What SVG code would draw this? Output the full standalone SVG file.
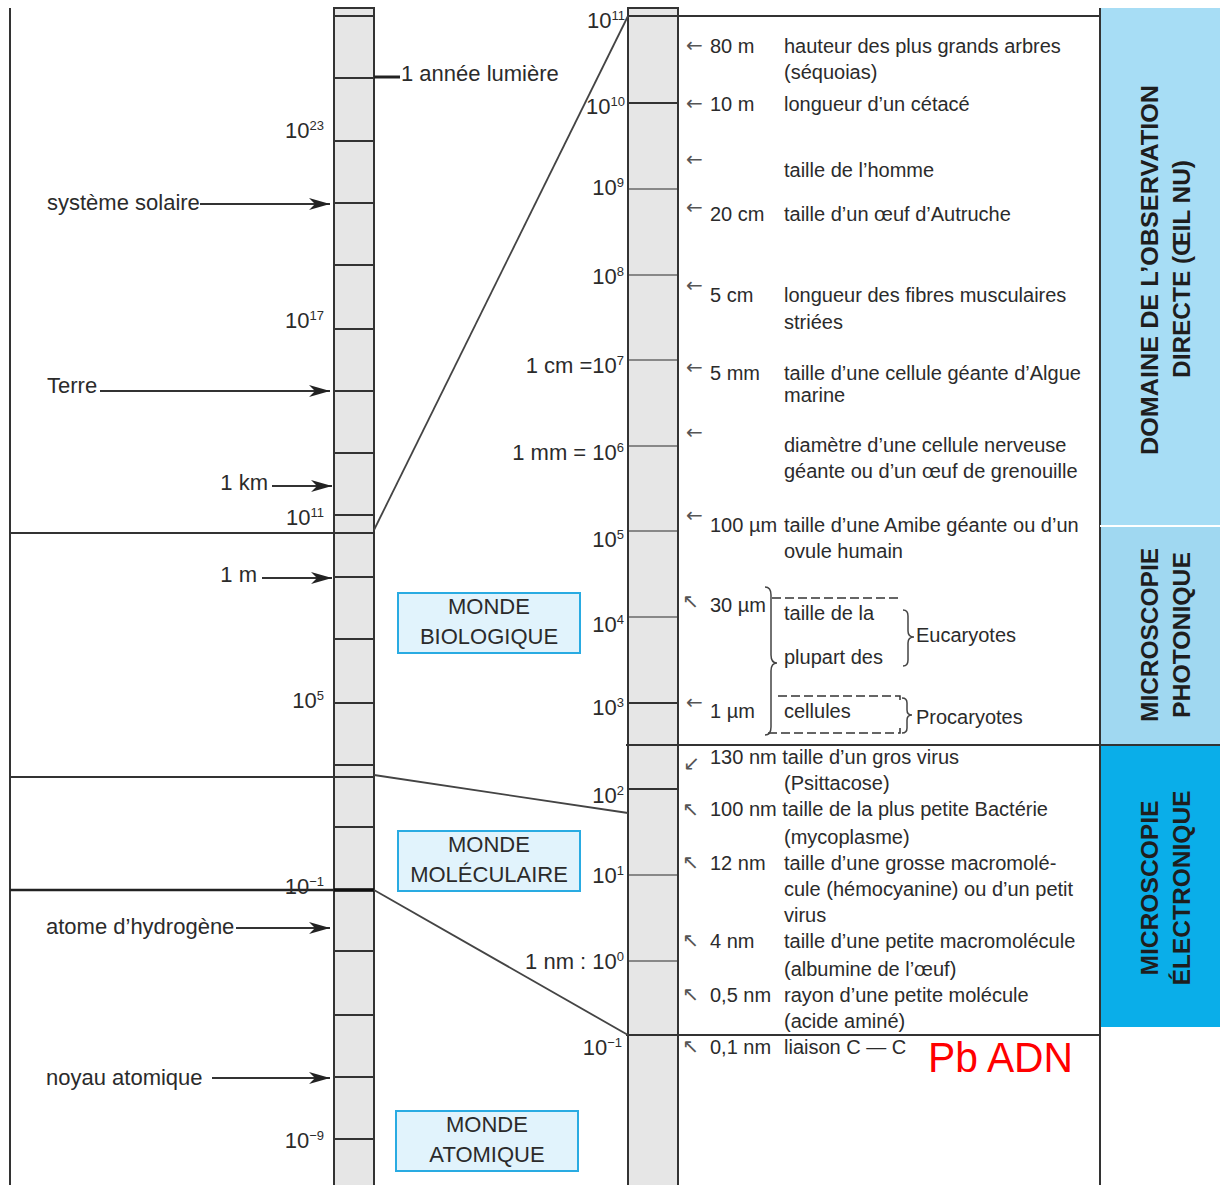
<svg xmlns="http://www.w3.org/2000/svg" width="1220" height="1185" viewBox="0 0 1220 1185">
<style>
text{font-family:"Liberation Sans",Arial,sans-serif;fill:#2b2b2b}
.t{font-size:20px}
.L{font-size:22px}
.sup{font-size:13px}
.ar{font-family:"DejaVu Sans",sans-serif;font-size:20px;fill:#555}
.ln{stroke:#333;stroke-width:2;fill:none}
.tk{stroke:#333;stroke-width:2}
.tg{stroke:#888;stroke-width:2}
.rul{fill:#e6e6e6;stroke:#333;stroke-width:2}
.box{fill:#e1f3fc;stroke:#29abe2;stroke-width:2}
.bt{font-size:22px;text-anchor:middle}
.vt{font-size:24px;font-weight:bold;text-anchor:middle;fill:#1e1e1e}
.dash{stroke:#333;stroke-width:1.5;stroke-dasharray:9,4;fill:none}
.br{stroke:#444;stroke-width:1.5;fill:none}
</style>
<defs>
<marker id="ah" markerUnits="userSpaceOnUse" markerWidth="22" markerHeight="12" refX="21" refY="6" orient="auto">
<path d="M0,0 L21,6 L0,12 L6,6 z" fill="#222"/>
</marker>
</defs>
<rect width="1220" height="1185" fill="#fff"/>

<g id="side-boxes">
<rect x="1100" y="8" width="120" height="517" fill="#a7ddf5"/>
<rect x="1100" y="527" width="120" height="218" fill="#a0d8f1"/>
<rect x="1100" y="745" width="120" height="282" fill="#0aaee9"/>
<text class="vt" transform="translate(1158,270) rotate(-90)" textLength="370" lengthAdjust="spacingAndGlyphs">DOMAINE DE L’OBSERVATION</text>
<text class="vt" transform="translate(1190,269) rotate(-90)" textLength="218" lengthAdjust="spacingAndGlyphs">DIRECTE (ŒIL NU)</text>
<text class="vt" transform="translate(1158,635) rotate(-90)" textLength="174" lengthAdjust="spacingAndGlyphs">MICROSCOPIE</text>
<text class="vt" transform="translate(1190,635) rotate(-90)" textLength="166" lengthAdjust="spacingAndGlyphs">PHOTONIQUE</text>
<text class="vt" transform="translate(1158,888) rotate(-90)" textLength="175" lengthAdjust="spacingAndGlyphs">MICROSCOPIE</text>
<text class="vt" transform="translate(1190,888) rotate(-90)" textLength="195" lengthAdjust="spacingAndGlyphs">ÉLECTRONIQUE</text>
</g>

<g id="left-ruler">
<line class="ln" x1="10" y1="8" x2="10" y2="1185"/>
<rect class="rul" x="334" y="8" width="40" height="1180"/>
<g class="tk">
<line x1="334" y1="16" x2="374" y2="16"/>
<line x1="334" y1="78" x2="374" y2="78"/>
<line x1="334" y1="141" x2="374" y2="141"/>
<line x1="334" y1="203" x2="374" y2="203"/>
<line x1="334" y1="265" x2="374" y2="265"/>
<line x1="334" y1="329" x2="374" y2="329"/>
<line x1="334" y1="391" x2="374" y2="391"/>
<line x1="334" y1="453" x2="374" y2="453"/>
<line x1="334" y1="515" x2="374" y2="515"/>
<line x1="334" y1="577" x2="374" y2="577"/>
<line x1="334" y1="639" x2="374" y2="639"/>
<line x1="334" y1="703" x2="374" y2="703"/>
<line x1="334" y1="765" x2="374" y2="765"/>
<line x1="334" y1="827" x2="374" y2="827"/>
<line x1="334" y1="951" x2="374" y2="951"/>
<line x1="334" y1="1015" x2="374" y2="1015"/>
<line x1="334" y1="1077" x2="374" y2="1077"/>
<line x1="334" y1="1139" x2="374" y2="1139"/>
</g>
<line class="ln" x1="10" y1="533" x2="374" y2="533"/>
<line class="ln" x1="10" y1="777" x2="374" y2="777"/>
<line x1="10" y1="890" x2="374" y2="890" stroke="#222" stroke-width="2.5"/>
<line x1="334" y1="890" x2="374" y2="890" stroke="#111" stroke-width="3.5"/>
<text class="L" x="324" y="138" text-anchor="end">10<tspan class="sup" dy="-8">23</tspan></text>
<text class="L" x="324" y="328" text-anchor="end">10<tspan class="sup" dy="-8">17</tspan></text>
<text class="L" x="324" y="525" text-anchor="end">10<tspan class="sup" dy="-8">11</tspan></text>
<text class="L" x="324" y="708" text-anchor="end">10<tspan class="sup" dy="-8">5</tspan></text>
<text class="L" x="324" y="894" text-anchor="end">10<tspan class="sup" dy="-8">−1</tspan></text>
<text class="L" x="324" y="1148" text-anchor="end">10<tspan class="sup" dy="-8">−9</tspan></text>
<line x1="374" y1="77" x2="400" y2="77" stroke="#222" stroke-width="3"/>
<text class="L" x="401" y="81">1 année lumière</text>
<text class="L" x="47" y="210">système solaire</text>
<text class="L" x="47" y="393">Terre</text>
<text class="L" x="268" y="490" text-anchor="end">1 km</text>
<text class="L" x="257" y="582" text-anchor="end">1 m</text>
<text class="L" x="46" y="934">atome d’hydrogène</text>
<text class="L" x="46" y="1085">noyau atomique</text>
</g>

<g id="monde-biologique">
<rect class="box" x="398" y="593" width="182" height="60"/>
<text class="bt" x="489" y="614">MONDE</text>
<text class="bt" x="489" y="644">BIOLOGIQUE</text>
</g>
<g id="monde-moleculaire">
<rect class="box" x="398" y="831" width="182" height="60"/>
<text class="bt" x="489" y="852">MONDE</text>
<text class="bt" x="489" y="882">MOLÉCULAIRE</text>
</g>
<g id="monde-atomique">
<rect class="box" x="396" y="1111" width="182" height="60"/>
<text class="bt" x="487" y="1132">MONDE</text>
<text class="bt" x="487" y="1162">ATOMIQUE</text>
</g>

<g id="mid-ruler">
<rect class="rul" x="628" y="8" width="50" height="1180"/>
<g class="tk">
<line x1="628" y1="103" x2="678" y2="103"/>
<line x1="628" y1="703" x2="678" y2="703"/>
<line x1="628" y1="789" x2="678" y2="789"/>
</g>
<g class="tg">
<line x1="629" y1="189" x2="677" y2="189"/>
<line x1="629" y1="275" x2="677" y2="275"/>
<line x1="629" y1="360" x2="677" y2="360"/>
<line x1="629" y1="446" x2="677" y2="446"/>
<line x1="629" y1="531" x2="677" y2="531"/>
<line x1="629" y1="617" x2="677" y2="617"/>
<line x1="629" y1="875" x2="677" y2="875"/>
<line x1="629" y1="961" x2="677" y2="961"/>
</g>
<text class="L" x="625" y="28" text-anchor="end">10<tspan class="sup" dy="-8">11</tspan></text>
<text class="L" x="625" y="114" text-anchor="end">10<tspan class="sup" dy="-8">10</tspan></text>
<text class="L" x="624" y="195" text-anchor="end">10<tspan class="sup" dy="-8">9</tspan></text>
<text class="L" x="624" y="284" text-anchor="end">10<tspan class="sup" dy="-8">8</tspan></text>
<text class="L" x="624" y="373" text-anchor="end">1 cm =10<tspan class="sup" dy="-8">7</tspan></text>
<text class="L" x="624" y="460" text-anchor="end">1 mm = 10<tspan class="sup" dy="-8">6</tspan></text>
<text class="L" x="624" y="547" text-anchor="end">10<tspan class="sup" dy="-8">5</tspan></text>
<text class="L" x="624" y="632" text-anchor="end">10<tspan class="sup" dy="-8">4</tspan></text>
<text class="L" x="624" y="715" text-anchor="end">10<tspan class="sup" dy="-8">3</tspan></text>
<text class="L" x="624" y="803" text-anchor="end">10<tspan class="sup" dy="-8">2</tspan></text>
<text class="L" x="624" y="883" text-anchor="end">10<tspan class="sup" dy="-8">1</tspan></text>
<text class="L" x="624" y="969" text-anchor="end">1 nm : 10<tspan class="sup" dy="-8">0</tspan></text>
<text class="L" x="622" y="1055" text-anchor="end">10<tspan class="sup" dy="-8">−1</tspan></text>
</g>

<g id="table-frame">
<line class="ln" x1="628" y1="16" x2="1100" y2="16"/>
<line class="ln" x1="626" y1="745" x2="1220" y2="745"/>
<line class="ln" x1="626" y1="1035" x2="1100" y2="1035"/>
<line class="ln" x1="1100" y1="8" x2="1100" y2="1185"/>
<line x1="1100" y1="526" x2="1220" y2="526" stroke="#fff" stroke-width="2"/>
</g>

<g id="connectors">
<line class="ln" x1="200" y1="204" x2="330" y2="204" marker-end="url(#ah)"/>
<line class="ln" x1="100" y1="391" x2="330" y2="391" marker-end="url(#ah)"/>
<line class="ln" x1="272" y1="486" x2="332" y2="486" marker-end="url(#ah)"/>
<line class="ln" x1="262" y1="578" x2="332" y2="578" marker-end="url(#ah)"/>
<line class="ln" x1="236" y1="928" x2="330" y2="928" marker-end="url(#ah)"/>
<line class="ln" x1="212" y1="1078" x2="330" y2="1078" marker-end="url(#ah)"/>
<line x1="374" y1="530" x2="628" y2="16" stroke="#444" stroke-width="1.8"/>
<line x1="374" y1="775" x2="628" y2="813" stroke="#444" stroke-width="1.8"/>
<line x1="374" y1="890" x2="628" y2="1035" stroke="#444" stroke-width="1.8"/>
</g>

<g id="table-items">
<text class="ar" x="686" y="52">←</text>
<text class="t" x="710" y="53">80 m</text>
<text class="t" x="784" y="53">hauteur des plus grands arbres</text>
<text class="t" x="784" y="79">(séquoias)</text>
<text class="ar" x="686" y="110">←</text>
<text class="t" x="710" y="111">10 m</text>
<text class="t" x="784" y="111">longueur d’un cétacé</text>
<text class="ar" x="686" y="166">←</text>
<text class="t" x="784" y="177">taille de l’homme</text>
<text class="ar" x="686" y="214">←</text>
<text class="t" x="710" y="221">20 cm</text>
<text class="t" x="784" y="221">taille d’un œuf d’Autruche</text>
<text class="ar" x="686" y="292">←</text>
<text class="t" x="710" y="302">5 cm</text>
<text class="t" x="784" y="302">longueur des fibres musculaires</text>
<text class="t" x="784" y="329">striées</text>
<text class="ar" x="686" y="374">←</text>
<text class="t" x="710" y="380">5 mm</text>
<text class="t" x="784" y="380">taille d’une cellule géante d’Algue</text>
<text class="t" x="784" y="402">marine</text>
<text class="ar" x="686" y="439">←</text>
<text class="t" x="784" y="452">diamètre d’une cellule nerveuse</text>
<text class="t" x="784" y="478">géante ou d’un œuf de grenouille</text>
<text class="ar" x="686" y="522">←</text>
<text class="t" x="710" y="532">100 µm</text>
<text class="t" x="784" y="532">taille d’une Amibe géante ou d’un</text>
<text class="t" x="784" y="558">ovule humain</text>
<text class="ar" x="682" y="608">↖</text>
<text class="t" x="710" y="612">30 µm</text>
<text class="t" x="784" y="620">taille de la</text>
<text class="t" x="784" y="664">plupart des</text>
<text class="t" x="916" y="642">Eucaryotes</text>
<text class="ar" x="686" y="709">←</text>
<text class="t" x="710" y="718">1 µm</text>
<text class="t" x="784" y="718">cellules</text>
<text class="t" x="916" y="724">Procaryotes</text>
<path class="dash" d="M772,598 H900"/>
<path class="dash" d="M778,696 H900 V700"/>
<path class="dash" d="M768,733 H900 V728"/>
<path class="br" d="M765,587 Q771,587 771,595 L771,655 Q771,663 777,663 Q771,663 771,671 L771,727 Q771,735 765,735"/>
<path class="br" d="M903,610 Q908,610 908,616 L908,631 Q908,637 914,637 Q908,637 908,643 L908,660 Q908,666 903,666"/>
<path class="br" d="M902,698 Q907,698 907,703 L907,710 Q907,715 912,715 Q907,715 907,720 L907,728 Q907,733 902,733"/>
<text class="ar" x="683" y="770">↙</text>
<text class="t" x="710" y="764">130 nm taille d’un gros virus</text>
<text class="t" x="784" y="790">(Psittacose)</text>
<text class="ar" x="682" y="816">↖</text>
<text class="t" x="710" y="816">100 nm taille de la plus petite Bactérie</text>
<text class="t" x="784" y="844">(mycoplasme)</text>
<text class="ar" x="682" y="869">↖</text>
<text class="t" x="710" y="870">12 nm</text>
<text class="t" x="784" y="870">taille d’une grosse macromolé-</text>
<text class="t" x="784" y="896">cule (hémocyanine) ou d’un petit</text>
<text class="t" x="784" y="922">virus</text>
<text class="ar" x="682" y="947">↖</text>
<text class="t" x="710" y="948">4 nm</text>
<text class="t" x="784" y="948">taille d’une petite macromolécule</text>
<text class="t" x="784" y="976">(albumine de l’œuf)</text>
<text class="ar" x="682" y="1001">↖</text>
<text class="t" x="710" y="1002">0,5 nm</text>
<text class="t" x="784" y="1002">rayon d’une petite molécule</text>
<text class="t" x="784" y="1028">(acide aminé)</text>
<text class="ar" x="682" y="1053">↖</text>
<text class="t" x="710" y="1054">0,1 nm</text>
<text class="t" x="784" y="1054">liaison C — C</text>
</g>

<g id="note">
<text x="928" y="1072" font-size="42" style="fill:#ff0000" textLength="145" lengthAdjust="spacingAndGlyphs">Pb ADN</text>
</g>
</svg>
